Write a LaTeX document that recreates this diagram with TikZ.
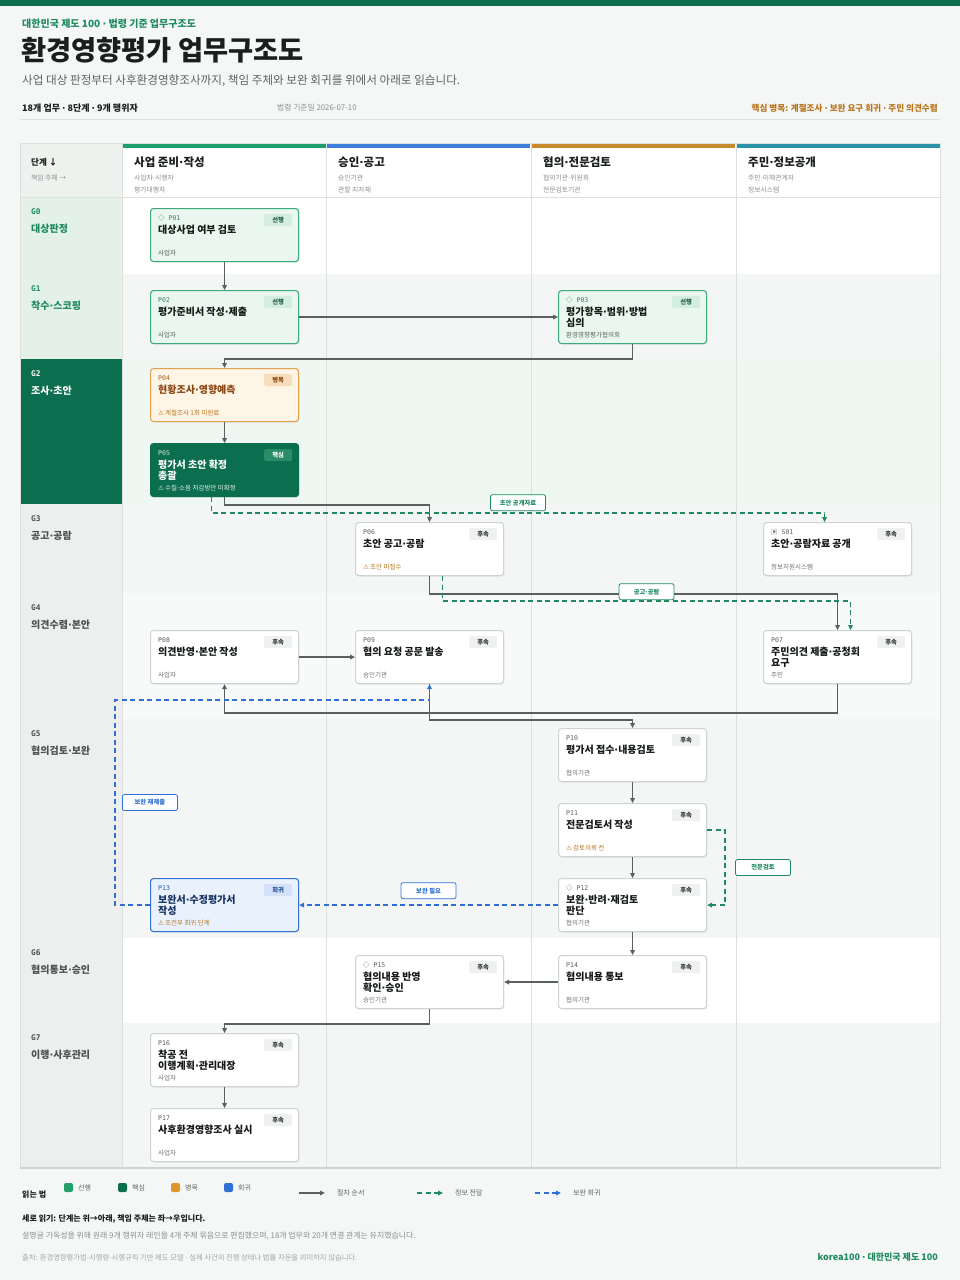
\documentclass[tikz,border=0pt]{standalone}
\usepackage{fontspec}
\usepackage{newunicodechar}
\setmainfont{Noto Sans CJK KR}
\newfontfamily\monofont{DejaVu Sans Mono}
\newfontfamily\symfont{DejaVu Sans}
\newunicodechar{·}{{\symfont\char"00B7}}
\usetikzlibrary{arrows.meta,shadows,positioning}

\definecolor{pagebg}{HTML}{F5F7F6}
\definecolor{brand}{HTML}{0B6E4F}
\definecolor{inkc}{HTML}{1A1F1C}
\definecolor{mutec}{HTML}{5E6461}
\definecolor{faintc}{HTML}{8A908D}
\definecolor{gridc}{HTML}{DCE1DE}
\definecolor{gridd}{HTML}{CDD3D0}
\definecolor{flowc}{HTML}{5A605D}
\definecolor{infoc}{HTML}{1E8A5E}
\definecolor{backc}{HTML}{2F6FD6}
\definecolor{warnc}{HTML}{B8741A}
\definecolor{headbg}{HTML}{EDF2EF}
\definecolor{stagelt}{HTML}{E3F1E9}
\definecolor{stagegr}{HTML}{ECEFED}
\definecolor{stagetx}{HTML}{1E8A5C}
\definecolor{stagegt}{HTML}{4B514E}
\definecolor{lanegr}{HTML}{F3F6F4}
\definecolor{lanegn}{HTML}{EEF7F2}
\definecolor{lanewt}{HTML}{F8FAF9}
\definecolor{colA}{HTML}{1E9E6A}
\definecolor{colB}{HTML}{3D7FDB}
\definecolor{colC}{HTML}{C98A2E}
\definecolor{colD}{HTML}{2B93A8}
\definecolor{leadsw}{HTML}{22A06B}
\definecolor{necksw}{HTML}{E0952A}
% card colours, one set per kind
\definecolor{leadline}{HTML}{3DAA7A}\definecolor{leadfill}{HTML}{EAF7F0}
\definecolor{leadid}{HTML}{3F7A5E}\definecolor{leadtitle}{HTML}{111A15}
\definecolor{leadbfill}{HTML}{D3EDE0}\definecolor{leadbtext}{HTML}{1F5D42}
\definecolor{leadfoot}{HTML}{56605B}
\definecolor{coreline}{HTML}{0B6E4F}\definecolor{corefill}{HTML}{0B6E4F}
\definecolor{coreid}{HTML}{CFE8DD}\definecolor{coretitle}{HTML}{FFFFFF}
\definecolor{corebfill}{HTML}{2B8C68}\definecolor{corebtext}{HTML}{FFFFFF}
\definecolor{corefoot}{HTML}{E4F2EB}
\definecolor{neckline}{HTML}{E4A250}\definecolor{neckfill}{HTML}{FFF5E6}
\definecolor{neckid}{HTML}{A0601E}\definecolor{necktitle}{HTML}{8A4512}
\definecolor{neckbfill}{HTML}{F7DDBB}\definecolor{neckbtext}{HTML}{8A4512}
\definecolor{neckfoot}{HTML}{8A4512}
\definecolor{backline}{HTML}{3473D8}\definecolor{backfill}{HTML}{E9F1FD}
\definecolor{backid}{HTML}{2B5CB3}\definecolor{backtitle}{HTML}{16305F}
\definecolor{backbfill}{HTML}{D3E2F8}\definecolor{backbtext}{HTML}{1E4A96}
\definecolor{backfoot}{HTML}{2B5CB3}
\definecolor{follline}{HTML}{CED4D1}\definecolor{follfill}{HTML}{FFFFFF}
\definecolor{follid}{HTML}{5A605D}\definecolor{folltitle}{HTML}{141916}
\definecolor{follbfill}{HTML}{EEF1EF}\definecolor{follbtext}{HTML}{2B302D}
\definecolor{follfoot}{HTML}{6B716E}

\newcommand{\fsz}[2]{\fontsize{#1}{#2}\selectfont}
\newcommand{\alertmk}{{\symfont\char"26A0}\,}
\newcommand{\warn}[1]{\textcolor{warnc}{\alertmk#1}}
\newcommand{\dia}{{\normalfont ◇}\ }
\newcommand{\sqmk}{{\normalfont ▣}\ }
\newcommand{\taskcard}[8]{%
  \node[card=#2] (#1) at (#3,#4) {};
  \node[cid,text=#2id] (#1-id) at ([shift={(8,10)}]#1.north west) {#5};
  \node[cbadge,fill=#2bfill,text=#2btext] (#1-bd) at ([shift={(-21,12)}]#1.north east) {#6};
  \node[ctitle,text=#2title] (#1-tt) at ([shift={(8,17)}]#1.north west) {#7};
  \node[cfoot,text=#2foot] (#1-ft) at ([shift={(8,45)}]#1.north west) {#8};}

\begin{document}
\begin{tikzpicture}[x=1pt,y=-1pt,
    card/.style={anchor=north west,draw=#1line,fill=#1fill,line width=1.1pt,rounded corners=3pt,
      minimum width=148,minimum height=53,inner sep=0pt,
      drop shadow={opacity=0.10,shadow xshift=0.8pt,shadow yshift=-1.2pt}},
    cid/.style={anchor=west,inner sep=0pt,font=\monofont\fsz{6.5}{7}},
    cbadge/.style={rounded corners=2pt,minimum width=28,minimum height=12,inner sep=0pt,font=\fsz{6.3}{7}\bfseries},
    ctitle/.style={anchor=north west,inner sep=0pt,align=left,font=\fsz{10}{10.6}\bfseries},
    cfoot/.style={anchor=west,inner sep=0pt,font=\fsz{6.5}{7}},
    txt/.style={anchor=west,inner sep=0pt},
    grid/.style={draw=gridc,line width=0.7pt},
    stagecode/.style={anchor=west,inner sep=0pt,font=\monofont\bfseries\fsz{7.8}{8}},
    stagename/.style={anchor=west,inner sep=0pt,font=\fsz{10}{11}\bfseries},
    flow/.style={draw=flowc,line width=1.4pt,-{Triangle[length=5pt,width=4.6pt]}},
    infoflow/.style={draw=infoc,line width=1.5pt,dash pattern=on 5pt off 3.5pt,-{Triangle[length=5pt,width=4.6pt]}},
    backflow/.style={draw=backc,line width=1.5pt,dash pattern=on 5pt off 3.5pt,-{Triangle[length=5pt,width=4.6pt]}},
    elbl/.style={draw=#1,text=#1,fill=white,rounded corners=2pt,line width=0.8pt,solid,
      minimum width=55,minimum height=16,inner sep=2pt,font=\fsz{6.3}{7}\bfseries},
    legtext/.style={anchor=west,inner sep=0pt,text=mutec,font=\fsz{7}{8}}]
  \fill[pagebg] (0,0) rectangle (960,1280);
  \useasboundingbox (0,0) rectangle (960,1280);
  \fill[brand] (0,0) rectangle (960,6);
  % header
  \node[txt,text=infoc,font=\fsz{10}{11}\bfseries] (kicker) at (22,24) {대한민국 제도 100 · 법령 기준 업무구조도};
  \node[txt,text=inkc,font=\fsz{27.3}{28}\bfseries] (title) at (21,50) {환경영향평가 업무구조도};
  \node[txt,text=mutec,font=\fsz{11.6}{12}] (lede) at (22,81) {사업 대상 판정부터 사후환경영향조사까지, 책임 주체와 보완 회귀를 위에서 아래로 읽습니다.};
  \node[txt,text=inkc,font=\fsz{9}{10}\bfseries] (count) at (22,108) {18개 업무 · 8단계 · 9개 행위자};
  \node[txt,text=faintc,font=\fsz{7.8}{8}] (asof) at (277,108) {법령 기준일 2026-07-10};
  \node[anchor=east,inner sep=0pt,text=warnc,font=\fsz{8.6}{9}\bfseries] (neck) at (938,108) {핵심 병목: 계절조사 · 보완 요구 회귀 · 주민 의견수렴};
  \draw[grid] (20,119) -- (940,119);

  % stage rows
  \foreach \i/\ya/\yb/\nm/\cf/\tc/\lf in {
      0/197/274/대상판정/stagelt/stagetx/white,
      1/274/359/착수·스코핑/stagelt/stagetx/lanegr,
      2/359/504/조사·초안/brand/white/lanegn,
      3/504/593/공고·공람/stagegr/stagegt/lanegr,
      4/593/719/의견수렴·본안/stagegr/stagegt/lanewt,
      5/719/938/협의검토·보완/stagegr/stagegt/lanegr,
      6/938/1023/협의통보·승인/stagegr/stagegt/white,
      7/1023/1168/이행·사후관리/stagegr/stagegt/lanegr}{
    \fill[\lf] (122,\ya) rectangle (940,\yb);
    \fill[\cf] (20,\ya) rectangle (122,\yb);
    \node[stagecode,text=\tc] (g\i) at (31,{\ya+15}) {G\i};
    \node[stagename,text=\tc] (gn\i) at (31,{\ya+32}) {\nm};
    \draw[grid] (20,\yb) -- (940,\yb);
  }
  \fill[white] (122,143) rectangle (940,197);
  \fill[headbg] (20,143) rectangle (122,197);
  \node[txt,text=inkc,font=\fsz{8.5}{9}\bfseries] (hstage) at (31,162) {단계 ↓};
  \node[txt,text=faintc,font=\fsz{6.8}{7}] (hactor) at (31,178) {책임 주체 →};
  % actor lanes
  \foreach \x/\c/\t/\sa/\sb in {
      122/colA/사업 준비·작성/사업자·시행자/평가대행자,
      326/colB/승인·공고/승인기관/관할 지자체,
      531/colC/협의·전문검토/협의기관·위원회/전문검토기관,
      736/colD/주민·정보공개/주민·이해관계자/정보시스템}{
    \fill[\c] (\x,143) rectangle ({\x+204},147.5);
    \node[txt,text=inkc,font=\fsz{11.5}{12}\bfseries] (h\x) at ({\x+12},162) {\t};
    \node[txt,text=faintc,font=\fsz{6.8}{7}] (ha\x) at ({\x+12},178) {\sa};
    \node[txt,text=faintc,font=\fsz{6.8}{7}] (hb\x) at ({\x+12},190) {\sb};
    \draw[grid] (\x,143) -- (\x,1168);
  }
  \draw[grid] (20,197) -- (940,197);
  \draw[grid] (20,143) rectangle (940,1168);
  \draw[gridd,line width=2pt] (20,1168) -- (940,1168);

  % tasks
  \taskcard{p01}{lead}{150}{208}{\dia P01}{선행}{대상사업 여부 검토}{사업자}
  \taskcard{p02}{lead}{150}{290}{P02}{선행}{평가준비서 작성·제출}{사업자}
  \taskcard{p03}{lead}{558}{290}{\dia P03}{선행}{평가항목·범위·방법\\심의}{환경영향평가협의회}
  \taskcard{p04}{neck}{150}{368}{P04}{병목}{현황조사·영향예측}{\warn{계절조사 1회 미완료}}
  \taskcard{p05}{core}{150}{443}{P05}{핵심}{평가서 초안 확정\\총괄}{\alertmk 수질·소음 저감방안 미확정}
  \taskcard{p06}{foll}{355}{522}{P06}{후속}{초안 공고·공람}{\warn{초안 미접수}}
  \taskcard{s01}{foll}{763}{522}{\sqmk S01}{후속}{초안·공람자료 공개}{정보지원시스템}
  \taskcard{p08}{foll}{150}{630}{P08}{후속}{의견반영·본안 작성}{사업자}
  \taskcard{p09}{foll}{355}{630}{P09}{후속}{협의 요청 공문 발송}{승인기관}
  \taskcard{p07}{foll}{763}{630}{P07}{후속}{주민의견 제출·공청회\\요구}{주민}
  \taskcard{p10}{foll}{558}{728}{P10}{후속}{평가서 접수·내용검토}{협의기관}
  \taskcard{p11}{foll}{558}{803}{P11}{후속}{전문검토서 작성}{\warn{검토의뢰 전}}
  \taskcard{p12}{foll}{558}{878}{\dia P12}{후속}{보완·반려·재검토\\판단}{협의기관}
  \taskcard{p13}{back}{150}{878}{P13}{회귀}{보완서·수정평가서\\작성}{\warn{조건부 회귀 단계}}
  \taskcard{p15}{foll}{355}{955}{\dia P15}{후속}{협의내용 반영\\확인·승인}{승인기관}
  \taskcard{p14}{foll}{558}{955}{P14}{후속}{협의내용 통보}{협의기관}
  \taskcard{p16}{foll}{150}{1033}{P16}{후속}{착공 전\\이행계획·관리대장}{사업자}
  \taskcard{p17}{foll}{150}{1108}{P17}{후속}{사후환경영향조사 실시}{사업자}

  % procedure order
  \draw[flow] (p01) -- (p02);
  \draw[flow] (p02) -- (p03);
  \draw[flow] (p03.south) -- ++(0,15) -| (p04.north);
  \draw[flow] (p04) -- (p05);
  \draw[flow] (p05.south) -- ++(0,8) -| (p06.north);
  \draw[flow] (p06.south) -- ++(0,18) -| (p07.north);
  \draw[flow] (p08) -- (p09);
  \draw[flow] (p07.south) -- ++(0,29) -| (p08.south);
  \draw[flow] (p09.south) -- ++(0,36) -| (p10.north);
  \draw[flow] (p10) -- (p11);
  \draw[flow] (p11) -- (p12);
  \draw[flow] (p12) -- (p14);
  \draw[flow] (p14) -- (p15);
  \draw[flow] (p15.south) -- ++(0,15) -| (p16.north);
  \draw[flow] (p16) -- (p17);
  % information and return loops
  \draw[infoflow] ([xshift=-13pt]p05.south) -- ++(0,16) -| node[elbl=infoc,pos=0.25,above=2pt] (l1) {초안 공개자료} ([xshift=-13pt]s01.north);
  \draw[infoflow] ([xshift=13pt]p06.south) -- ++(0,25) -| node[elbl=infoc,pos=0.25,above=1pt] (l2) {공고·공람} ([xshift=13pt]p07.north);
  \draw[infoflow] (p11.east) -- ++(18,0) |- node[elbl=infoc,pos=0.25,right=10pt] (l3) {전문검토} (p12.east);
  \draw[backflow] (p12) -- node[elbl=backc,above=6pt] (l4) {보완 필요} (p13);
  \draw[backflow] (p13.west) -- ++(-35,0) |- node[elbl=backc,pos=0.25,right=7pt] (l5) {보완 재제출} ([yshift=-16pt]p09.south) -- (p09.south);

  % legend
  \node[txt,text=inkc,font=\fsz{8}{9}\bfseries] (lgd) at (22,1194) {읽는 법};
  \foreach \x/\c/\t in {64/leadsw/선행, 118/brand/핵심, 171/necksw/병목, 224/backc/회귀}{
    \fill[\c,rounded corners=2pt] (\x,1183) rectangle ({\x+9},1192);
    \node[legtext] (lg\x) at ({\x+14},1187.5) {\t};
  }
  \foreach \x/\s/\t in {299/flow/절차 순서, 417/infoflow/정보 전달, 535/backflow/보완 회귀}{
    \coordinate (ls\x) at (\x,1193);
    \coordinate (le\x) at ({\x+26},1193);
    \draw[\s] (ls\x) -- (le\x);
    \node[legtext] (lt\x) at ({\x+38},1193) {\t};
  }
  \node[txt,text=inkc,font=\fsz{8}{9}\bfseries] (note1) at (22,1219) {세로 읽기: 단계는 위→아래, 책임 주체는 좌→우입니다.};
  \node[txt,text=faintc,font=\fsz{7.9}{8}] (note2) at (22,1236) {설명글 가독성을 위해 원래 9개 행위자 레인을 4개 주체 묶음으로 편집했으며, 18개 업무와 20개 연결 관계는 유지했습니다.};
  \node[txt,text=faintc!80,font=\fsz{7.3}{8}] (note3) at (22,1258) {출처: 환경영향평가법·시행령·시행규칙 기반 제도 모델 · 실제 사건의 진행 상태나 법률 자문을 의미하지 않습니다.};
  \node[anchor=east,inner sep=0pt,text=infoc,font=\fsz{9}{10}\bfseries] (brandmark) at (938,1257) {korea100 · 대한민국 제도 100};
\end{tikzpicture}
\end{document}
